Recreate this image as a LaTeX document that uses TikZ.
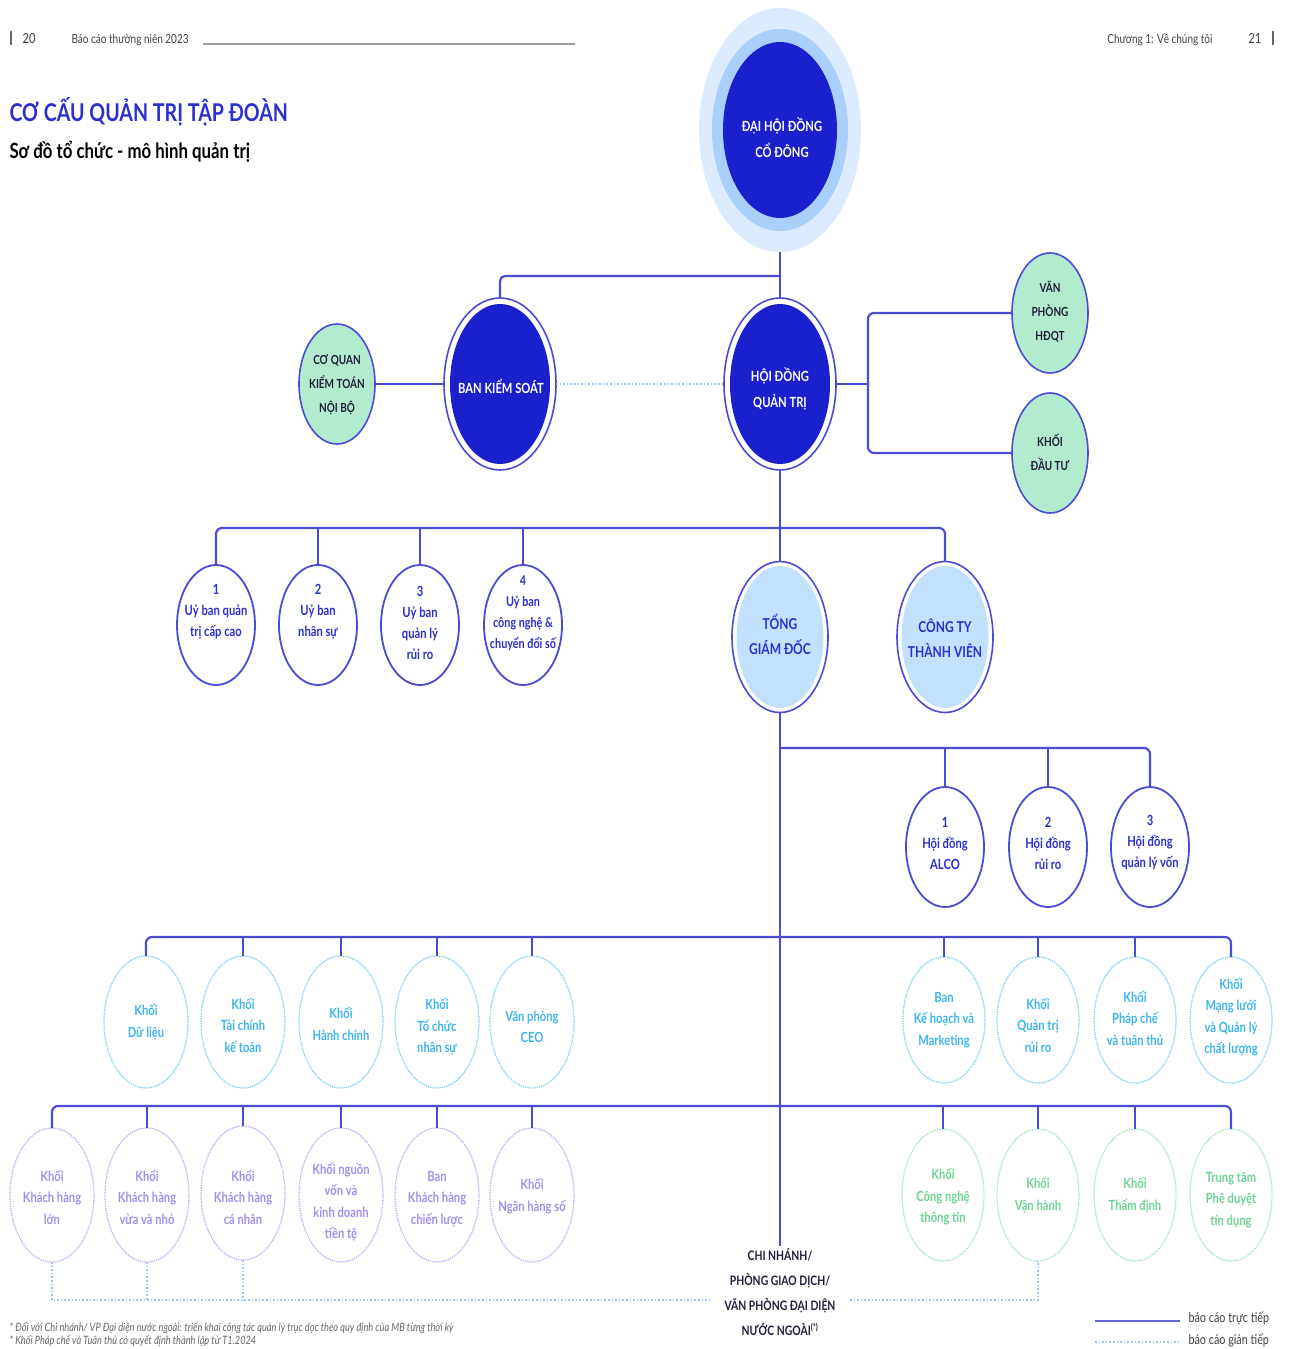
\documentclass[tikz,border=0pt]{standalone}
\usepackage{fontspec}
\setmainfont{Lato}[FakeStretch=0.8]
\usetikzlibrary{shapes.geometric}
\definecolor{dkblue}{HTML}{1A20CC}
\definecolor{lnblue}{HTML}{4B4BD6}
\definecolor{halo1}{HTML}{DCEBFD}
\definecolor{halo2}{HTML}{A9CFFB}
\definecolor{mint}{HTML}{B3EBCF}
\definecolor{pale}{HTML}{C2E1FF}
\definecolor{cyanl}{HTML}{7DD0F5}
\definecolor{cyant}{HTML}{3DB5EE}
\definecolor{purl}{HTML}{BBAFF6}
\definecolor{purt}{HTML}{A38EF0}
\definecolor{grnl}{HTML}{A3E6BD}
\definecolor{grnt}{HTML}{6FD394}
\definecolor{txtblue}{HTML}{2A2FD0}
\definecolor{dotblue}{HTML}{9CC4F5}
\definecolor{darktxt}{HTML}{1E1E3A}
\tikzset{
  conn/.style={draw=lnblue, line width=2.2pt},
  indir/.style={draw=dotblue, line width=1.6pt, dotted},
  ell/.style={ellipse, inner sep=0pt, outer sep=0pt},
  bigout/.style={ell, draw=lnblue, line width=1.6pt, fill=white, minimum width=112, minimum height=172},
  bigin/.style={ell, fill=dkblue, minimum width=100, minimum height=160},
  mintov/.style={ell, draw=lnblue, line width=1.6pt, fill=mint, minimum width=76, minimum height=120},
  comov/.style={ell, draw=lnblue, line width=1.8pt, fill=white, minimum width=78, minimum height=120},
  paleout/.style={ell, draw=lnblue, line width=1.6pt, fill=white, minimum width=96, minimum height=151},
  palein/.style={ell, fill=pale, minimum width=87, minimum height=142},
  cyov/.style={ell, draw=cyanl, line width=1.3pt, densely dotted, minimum width=84, minimum height=132},
  cyovr/.style={ell, draw=cyanl, line width=1.3pt, densely dotted, minimum width=82, minimum height=126},
  puov/.style={ell, draw=purl, line width=1.3pt, densely dotted, minimum width=84, minimum height=134},
  grov/.style={ell, draw=grnl, line width=1.3pt, densely dotted, minimum width=82, minimum height=132},
  wtxt/.style={align=center, text=white, font=\bfseries\fontsize{14}{26}\selectfont},
  mtxt/.style={align=center, text=darktxt, font=\bfseries\fontsize{12.5}{24}\selectfont},
  ctxt/.style={align=center, text=txtblue, font=\bfseries\fontsize{14}{21}\selectfont},
  ptxt/.style={align=center, text=txtblue, font=\bfseries\fontsize{15}{25}\selectfont},
  cytxt/.style={align=center, text=cyant, font=\bfseries\fontsize{14}{21.5}\selectfont},
  putxt/.style={align=center, text=purt, font=\bfseries\fontsize{14}{21.5}\selectfont},
  grtxt/.style={align=center, text=grnt, font=\bfseries\fontsize{14}{21.5}\selectfont},
}
\begin{document}
\begin{tikzpicture}[x=1pt, y=-1pt]
\useasboundingbox[fill=white] (0,0) rectangle (1291,1349);

% header
\draw[line width=1.5pt, gray!80!black] (11,31) -- (11,45);
\node[anchor=west, font=\fontsize{14}{16}\selectfont, text=black!75] (pg20) at (19,38) {20};
\node[anchor=west, font=\fontsize{12.5}{14}\selectfont, text=black!75] (hdl) at (68,40) {Báo cáo thường niên 2023};
\draw[line width=2.5pt, gray!75] (203,44) -- (575,44);
\node[anchor=east, font=\fontsize{12.5}{14}\selectfont, text=black!75] (hdr) at (1216,40) {Chương 1: Về chúng tôi};
\node[anchor=east, font=\fontsize{14}{16}\selectfont, text=black!75] (pg21) at (1265,38) {21};
\draw[line width=1.5pt, gray!80!black] (1273,31) -- (1273,45);

% title
\node[anchor=west, text=txtblue, font=\bfseries\fontsize{24.5}{30}\selectfont] (title) at (6,112) {CƠ CẤU QUẢN TRỊ TẬP ĐOÀN};
\node[anchor=west, text=black, font=\bfseries\fontsize{21}{24}\selectfont] (subtitle) at (6,152) {Sơ đồ tổ chức - mô hình quản trị};

% top: general meeting
\node[ell, fill=halo1, minimum width=162, minimum height=244] (dhcd) at (780,130) {};
\node[ell, fill=halo2, minimum width=136, minimum height=202] (dhcd2) at (780,130) {};
\node[ell, fill=dkblue, minimum width=114, minimum height=176] (dhcd3) at (780,130) {};
\node[wtxt] at (782,138) {ĐẠI HỘI ĐỒNG\\CỔ ĐÔNG};

% level 2
\node[bigout] (bks) at (500,384) {};
\node[bigin] at (bks) {};
\node[wtxt] at (501,386) {BAN KIỂM SOÁT};
\node[bigout] (hdqt) at (780,384) {};
\node[bigin] at (hdqt) {};
\node[wtxt] at (780,389) {HỘI ĐỒNG\\QUẢN TRỊ};

\node[mintov] (kt) at (337,384) {};
\node[mtxt] at (337,385) {CƠ QUAN\\KIỂM TOÁN\\NỘI BỘ};
\node[mintov] (vp) at (1050,313) {};
\node[mtxt] at (1050,312) {VĂN\\PHÒNG\\HĐQT};
\node[mintov] (kdt) at (1050,453) {};
\node[mtxt] at (1050,452) {KHỐI\\ĐẦU TƯ};

% committees
\node[comov] (ub1) at (216,625) {};
\node[ctxt] at (216,612) {1\\Uỷ ban quản\\trị cấp cao};
\node[comov] (ub2) at (318,625) {};
\node[ctxt] at (318,612) {2\\Uỷ ban\\nhân sự};
\node[comov] (ub3) at (420,625) {};
\node[ctxt] at (420,623) {3\\Uỷ ban\\quản lý\\rủi ro};
\node[comov] (ub4) at (523,625) {};
\node[ctxt, font=\bfseries\fontsize{13.5}{21}\selectfont] at (523,613) {4\\Uỷ ban\\công nghệ \&\\chuyển đổi số};

\node[paleout] (tgd) at (780,637) {};
\node[palein] at (tgd) {};
\node[ptxt] at (780,634) {TỔNG\\GIÁM ĐỐC};
\node[paleout] (ctv) at (945,637) {};
\node[palein] at (ctv) {};
\node[ptxt] at (945,638) {CÔNG TY\\THÀNH VIÊN};

% councils
\node[comov] (hd1) at (945,847) {};
\node[ctxt] at (945,843) {1\\Hội đồng\\ALCO};
\node[comov] (hd2) at (1048,847) {};
\node[ctxt] at (1048,843) {2\\Hội đồng\\rủi ro};
\node[comov] (hd3) at (1150,847) {};
\node[ctxt] at (1150,843) {3\\Hội đồng\\quản lý vốn};

% cyan row
\node[cyov] (c1) at (146,1022) {};
\node[cytxt] at (146,1022) {Khối\\Dữ liệu};
\node[cyov] (c2) at (243,1022) {};
\node[cytxt] at (243,1025) {Khối\\Tài chính\\kế toán};
\node[cyov] (c3) at (341,1022) {};
\node[cytxt] at (341,1024) {Khối\\Hành chính};
\node[cyov] (c4) at (437,1022) {};
\node[cytxt] at (437,1027) {Khối\\Tổ chức\\nhân sự};
\node[cyov] (c5) at (532,1022) {};
\node[cytxt] at (532,1027) {Văn phòng\\CEO};

\node[cyovr] (r1) at (944,1020) {};
\node[cytxt] at (944,1020) {Ban\\Kế hoạch và\\Marketing};
\node[cyovr] (r2) at (1038,1020) {};
\node[cytxt] at (1038,1025) {Khối\\Quản trị\\rủi ro};
\node[cyovr] (r3) at (1135,1020) {};
\node[cytxt] at (1135,1018) {Khối\\Pháp chế\\và tuân thủ};
\node[cyovr] (r4) at (1231,1020) {};
\node[cytxt] at (1231,1017) {Khối\\Mạng lưới\\và Quản lý\\chất lượng};

% purple row
\node[puov] (p1) at (52,1195) {};
\node[putxt] at (52,1197) {Khối\\Khách hàng\\lớn};
\node[puov] (p2) at (147,1195) {};
\node[putxt] at (147,1197) {Khối\\Khách hàng\\vừa và nhỏ};
\node[puov] (p3) at (243,1193) {};
\node[putxt] at (243,1197) {Khối\\Khách hàng\\cá nhân};
\node[puov] (p4) at (341,1195) {};
\node[putxt] at (341,1202) {Khối nguồn\\vốn và\\kinh doanh\\tiền tệ};
\node[puov] (p5) at (437,1195) {};
\node[putxt] at (437,1199) {Ban\\Khách hàng\\chiến lược};
\node[puov] (p6) at (532,1195) {};
\node[putxt] at (532,1196) {Khối\\Ngân hàng số};

% green row
\node[grov] (g1) at (943,1195) {};
\node[grtxt] at (943,1197) {Khối\\Công nghệ\\thông tin};
\node[grov] (g2) at (1038,1195) {};
\node[grtxt] at (1038,1195) {Khối\\Vận hành};
\node[grov] (g3) at (1135,1195) {};
\node[grtxt] at (1135,1195) {Khối\\Thẩm định};
\node[grov] (g4) at (1231,1195) {};
\node[grtxt] at (1231,1200) {Trung tâm\\Phê duyệt\\tín dụng};

% branches
\node[align=center, text=darktxt, font=\bfseries\fontsize{13}{24.7}\selectfont, inner sep=3pt] (cn) at (780,1292) {CHI NHÁNH/\\PHÒNG GIAO DỊCH/\\VĂN PHÒNG ĐẠI DIỆN\\NƯỚC NGOÀI\textsuperscript{(*)}};

% connectors
\coordinate (j1) at (780,276);
\draw[conn] (dhcd.south) -- (j1) -- (hdqt.north);
\draw[conn, rounded corners=5] (j1) -| (bks.north);
\draw[conn, line width=2.8pt] (kt.east) -- (bks.west);
\draw[indir] (bks.east) -- (hdqt.west);
\coordinate (j2) at (868,384);
\draw[conn] (hdqt.east) -- (j2);
\draw[conn, rounded corners=6] (vp.west) -| (j2) |- (kdt.west);

\coordinate (j3) at (780,528);
\draw[conn] (hdqt.south) -- (j3) -- (tgd.north);
\draw[conn, rounded corners=6] (ub1.north) |- (j3) -| (ctv.north);
\draw[conn] (ub2.north) -- (ub2.north |- j3);
\draw[conn] (ub3.north) -- (ub3.north |- j3);
\draw[conn] (ub4.north) -- (ub4.north |- j3);

\draw[conn] (tgd.south) -- (cn.north);
\coordinate (j4) at (780,748);
\draw[conn, rounded corners=6] (j4) -| (hd3.north);
\draw[conn] (hd1.north) -- (hd1.north |- j4);
\draw[conn] (hd2.north) -- (hd2.north |- j4);

\coordinate (j5) at (780,937);
\draw[conn, rounded corners=6] (c1.north) |- (j5) -| (r4.north);
\foreach \n in {c2,c3,c4,c5,r1,r2,r3}
  \draw[conn] (\n.north) -- (\n.north |- j5);

\coordinate (j6) at (780,1106);
\draw[conn, rounded corners=6] (p1.north) |- (j6) -| (g4.north);
\foreach \n in {p2,p3,p4,p5,p6,g1,g2,g3}
  \draw[conn] (\n.north) -- (\n.north |- j6);

\coordinate (bl) at (712,1300);
\coordinate (br) at (850,1300);
\draw[indir, line width=1.2pt] (p1.south) |- (bl);
\draw[indir, line width=1.2pt] (p2.south) -- (p2.south |- bl);
\draw[indir, line width=1.2pt] (p3.south) -- (p3.south |- bl);
\draw[indir, line width=1.2pt] (br) -| (g2.south);

% footnotes
\node[anchor=west, text=black!60, font=\itshape\fontsize{11.5}{12}\selectfont] (fn1) at (6,1328) {* Đối với Chi nhánh/ VP Đại diện nước ngoài: triển khai công tác quản lý trục dọc theo quy định của MB từng thời kỳ};
\node[anchor=west, text=black!60, font=\itshape\fontsize{11.5}{12}\selectfont] (fn2) at (6,1341) {* Khối Pháp chế và Tuân thủ có quyết định thành lập từ T1.2024};

% legend
\coordinate (l1) at (1095,1321);
\coordinate (l2) at (1180,1321);
\draw[conn, draw=lnblue!85] (l1) -- (l2);
\node[anchor=west, text=black!75, font=\fontsize{13.5}{14}\selectfont] (lg1) at (1185,1318) {báo cáo trực tiếp};
\coordinate (l3) at (1095,1342);
\coordinate (l4) at (1180,1342);
\draw[indir, line width=1.2pt] (l3) -- (l4);
\node[anchor=west, text=black!75, font=\fontsize{13.5}{14}\selectfont] (lg2) at (1185,1340) {báo cáo gián tiếp};
\end{tikzpicture}
\end{document}
